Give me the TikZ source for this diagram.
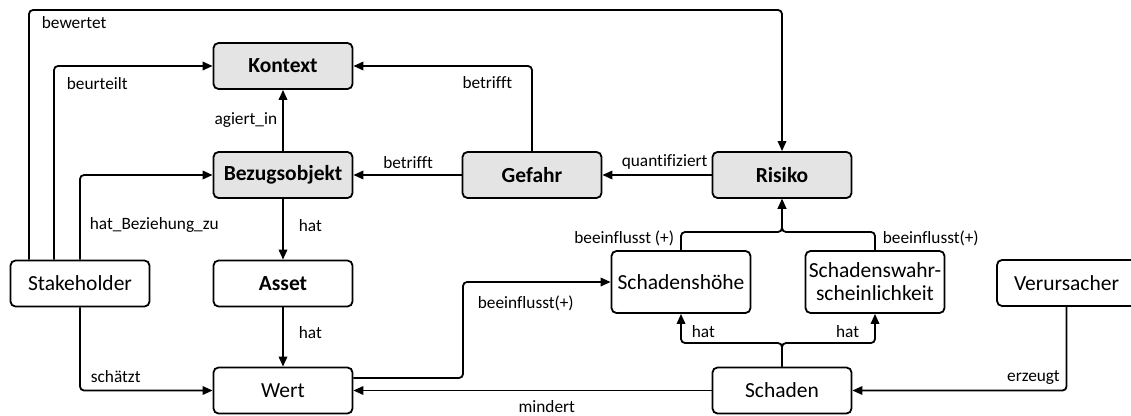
\documentclass[tikz,border=0pt]{standalone}
\usepackage{fontspec}
\setmainfont{Carlito}[Ligatures={NoCommon}]
\usetikzlibrary{arrows.meta}
\definecolor{keygray}{RGB}{228,228,228}
\tikzset{
  box/.style={draw, line width=1.8pt, rounded corners=5pt, fill=white,
    minimum width=139pt, minimum height=46pt, inner sep=0pt, align=center,
    font=\fontsize{21.5}{23}\selectfont},
  keybox/.style={box, fill=keygray, font=\fontsize{21.5}{23}\selectfont\bfseries},
  lbl/.style={inner sep=0pt, font=\fontsize{17.3}{19}\selectfont},
  conn/.style={line width=1.8pt, rounded corners=4pt,
    -{Triangle[length=10pt,width=8.5pt]}},
}
\begin{document}
\begin{tikzpicture}[x=1pt,y=-1pt]
\useasboundingbox (0,0) rectangle (1131,415);

% concepts
\node[keybox] (kontext) at (283,66) {Kontext};
\node[keybox] (bezug)   at (283,175) {Bezugsobjekt};
\node[keybox] (gefahr)  at (532,175) {Gefahr};
\node[keybox] (risiko)  at (782,175) {Risiko};
\node[box] (stake)  at (80,283.5) {Stakeholder};
\node[box, font=\fontsize{21.5}{23}\selectfont\bfseries] (asset) at (283,283.5) {Asset};
\node[box] (wert)   at (283,390.5) {Wert};
\node[box, minimum height=62pt] (hoehe) at (681,282) {Schadensh\"ohe};
\node[box, minimum height=62pt] (prob)  at (875,282) {Schadenswahr-\\scheinlichkeit};
\node[box, minimum height=46pt] (verur) at (1066.5,283) {Verursacher};
\node[box] (schaden) at (782,390.5) {Schaden};

% bend points
\coordinate (roof)  at (29,10);
\coordinate (kink)  at (463,308);
\coordinate (fork)  at (782,343);
\coordinate (merge) at (782,232);

% Stakeholder relations
\draw[conn] ([xshift=-51pt]stake.north) -- (roof)
  node[lbl, anchor=base west, xshift=12pt, yshift=-18pt] {bewertet}
  -| (risiko.north);
\draw[conn] ([xshift=-26pt]stake.north) |- (kontext.west)
  node[lbl, pos=0.5, anchor=base west, xshift=12pt, yshift=-23pt] {beurteilt};
\draw[conn] (stake.north) |- (bezug.west)
  node[lbl, pos=0.18, anchor=base west, xshift=9pt] {hat\_Beziehung\_zu};
\draw[conn] (stake.south) |- (wert.west)
  node[lbl, pos=0.5, anchor=base west, xshift=10pt, yshift=8pt] {sch\"atzt};

% reference object chain
\draw[conn] (bezug.north) -- (kontext.south)
  node[lbl, pos=0.43, anchor=base east, xshift=-5pt] {agiert\_in};
\draw[conn] (bezug.south) -- (asset.north)
  node[lbl, pos=0.53, anchor=base west, xshift=15pt] {hat};
\draw[conn] (asset.south) -- (wert.north)
  node[lbl, pos=0.52, anchor=base west, xshift=15pt] {hat};

% hazard and risk
\draw[conn] (gefahr.north) |- (kontext.east)
  node[lbl, pos=0.5, anchor=base east, xshift=-19pt, yshift=-22pt] {betrifft};
\draw[conn] (gefahr.west) -- (bezug.east)
  node[lbl, pos=0.495, anchor=base, yshift=7pt] {betrifft};
\draw[conn] (risiko.west) -- (gefahr.east)
  node[lbl, pos=0.43, anchor=base, yshift=9pt] {quantifiziert};

% damage side
\draw[conn] ([yshift=12.5pt]wert.east) -| (kink)
  node[lbl, anchor=base west, xshift=14pt] {beeinflusst(+)}
  |- (hoehe.west);
\draw[conn] (schaden.west) -- (wert.east)
  node[lbl, pos=0.46, anchor=base, yshift=-22pt] {mindert};
\draw[conn] (schaden.north) -- (fork) -| (hoehe.south)
  node[lbl, anchor=base west, xshift=10pt, yshift=-24pt] {hat};
\draw[conn] (schaden.north) -- (fork) -| (prob.south)
  node[lbl, anchor=base east, xshift=-15pt, yshift=-24pt] {hat};
\draw[conn] (hoehe.north)
  node[lbl, anchor=base east, xshift=-6pt, yshift=7pt] {beeinflusst (+)}
  |- (merge) -- (risiko.south);
\draw[conn] (prob.north)
  node[lbl, anchor=base west, xshift=7pt, yshift=7pt] {beeinflusst(+)}
  |- (merge) -- (risiko.south);
\draw[conn] (verur.south) |- (schaden.east)
  node[lbl, pos=0.5, anchor=base east, xshift=-6pt, yshift=9pt] {erzeugt};
\end{tikzpicture}
\end{document}
